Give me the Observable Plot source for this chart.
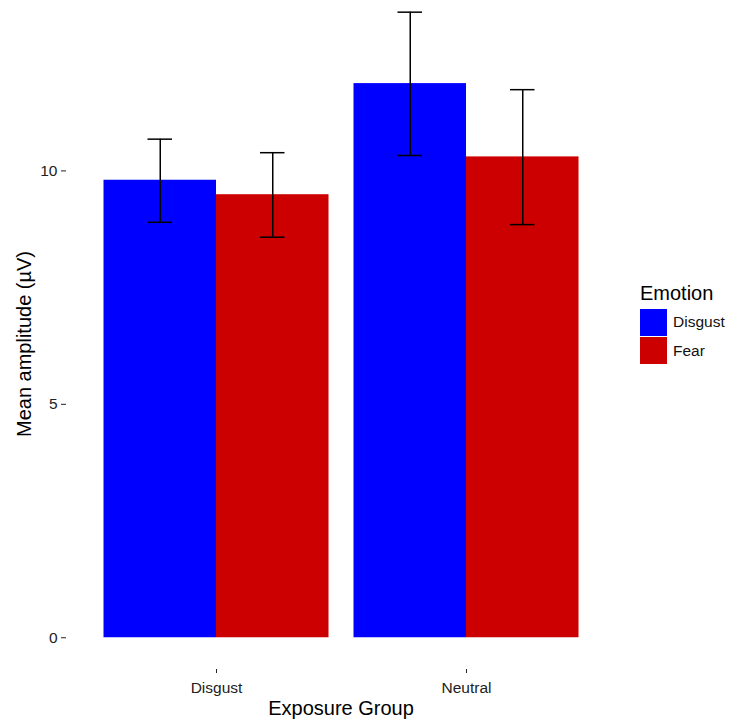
<!DOCTYPE html>
<html>
<head>
<meta charset="utf-8">
<script src="https://cdn.jsdelivr.net/npm/d3@7"></script>
<script src="https://cdn.jsdelivr.net/npm/@observablehq/plot@0.6"></script>
<style>
  body { margin: 0; background: #fff; font-family: "Liberation Sans", Arial, sans-serif; }
  #wrap { position: relative; width: 730px; height: 722px; }
  .title { position: absolute; font-size: 20px; color: #000; white-space: nowrap; }
  #ytitle { left: 24px; top: 344px; transform: translate(-50%, -50%) rotate(-90deg); }
  #xtitle { left: 341px; top: 708px; transform: translate(-50%, -50%); }
  #legend { position: absolute; left: 640px; top: 281px; }
  #legend .lt { font-size: 20px; line-height: 24px; margin-bottom: 3px; }
  #legend .row { display: flex; align-items: center; height: 28.5px; }
  #legend .sw { width: 27px; height: 27px; margin-right: 6px; }
  #legend .lab { font-size: 15.5px; color: #111; }
</style>
</head>
<body>
<div id="wrap"></div>
<script>
const groups = ["Disgust", "Disgust", "Neutral", "Neutral"];
const emotions = ["Disgust", "Fear", "Disgust", "Fear"];
const means = [9.80, 9.49, 11.87, 10.30];
const lower = [8.90, 8.58, 10.33, 8.85];
const upper = [10.68, 10.39, 13.40, 11.74];
const groupDomain = ["Disgust", "Neutral"];
const emotionDomain = ["Disgust", "Fear"];
const emotionColors = ["#0000FF", "#CC0000"];
const yTicks = [0, 5, 10];

const data = groups.map((g, i) => ({group: g, emotion: emotions[i], mean: means[i], lo: lower[i], hi: upper[i]}));

const chart = Plot.plot({
  width: 730,
  height: 722,
  marginLeft: 66,
  marginRight: 114,
  marginTop: 0,
  marginBottom: 53,
  style: {fontFamily: "Liberation Sans, Arial, sans-serif", background: "white"},
  fx: {domain: groupDomain, paddingInner: 0.1, paddingOuter: 0.15, round: false, label: null, axis: null},
  x: {domain: emotionDomain, padding: 0, round: false, axis: null},
  y: {domain: [-0.68, 13.65], label: null, axis: null},
  color: {domain: emotionDomain, range: emotionColors},
  marks: [
    Plot.barY(data, {fx: "group", x: "emotion", y: "mean", fill: "emotion"}),
    Plot.ruleX(data, {fx: "group", x: "emotion", y1: "lo", y2: "hi", stroke: "#000", strokeWidth: 1.5}),
    Plot.tickY(data, {fx: "group", x: "emotion", y: "lo", stroke: "#000", strokeWidth: 1.5, insetLeft: 44, insetRight: 44}),
    Plot.tickY(data, {fx: "group", x: "emotion", y: "hi", stroke: "#000", strokeWidth: 1.5, insetLeft: 44, insetRight: 44}),
    Plot.axisY({ticks: yTicks, tickSize: 5, tickPadding: 4, dx: -37.5, fontSize: 15.5, color: "#222", label: null}),
    Plot.axisFx({anchor: "bottom", tickSize: 4, tickPadding: 8, fontSize: 15.5, color: "#222", label: null})
  ]
});

const wrap = document.getElementById("wrap");
wrap.appendChild(chart);

const yt = document.createElement("div");
yt.className = "title"; yt.id = "ytitle"; yt.textContent = "Mean amplitude (µV)";
wrap.appendChild(yt);
const xt = document.createElement("div");
xt.className = "title"; xt.id = "xtitle"; xt.textContent = "Exposure Group";
wrap.appendChild(xt);

const leg = document.createElement("div");
leg.id = "legend";
const lt = document.createElement("div");
lt.className = "lt"; lt.textContent = "Emotion";
leg.appendChild(lt);
emotionDomain.forEach((e, i) => {
  const row = document.createElement("div"); row.className = "row";
  const sw = document.createElement("div"); sw.className = "sw"; sw.style.background = emotionColors[i];
  const lab = document.createElement("span"); lab.className = "lab"; lab.textContent = e;
  row.appendChild(sw); row.appendChild(lab);
  leg.appendChild(row);
});
wrap.appendChild(leg);
</script>
</body>
</html>
